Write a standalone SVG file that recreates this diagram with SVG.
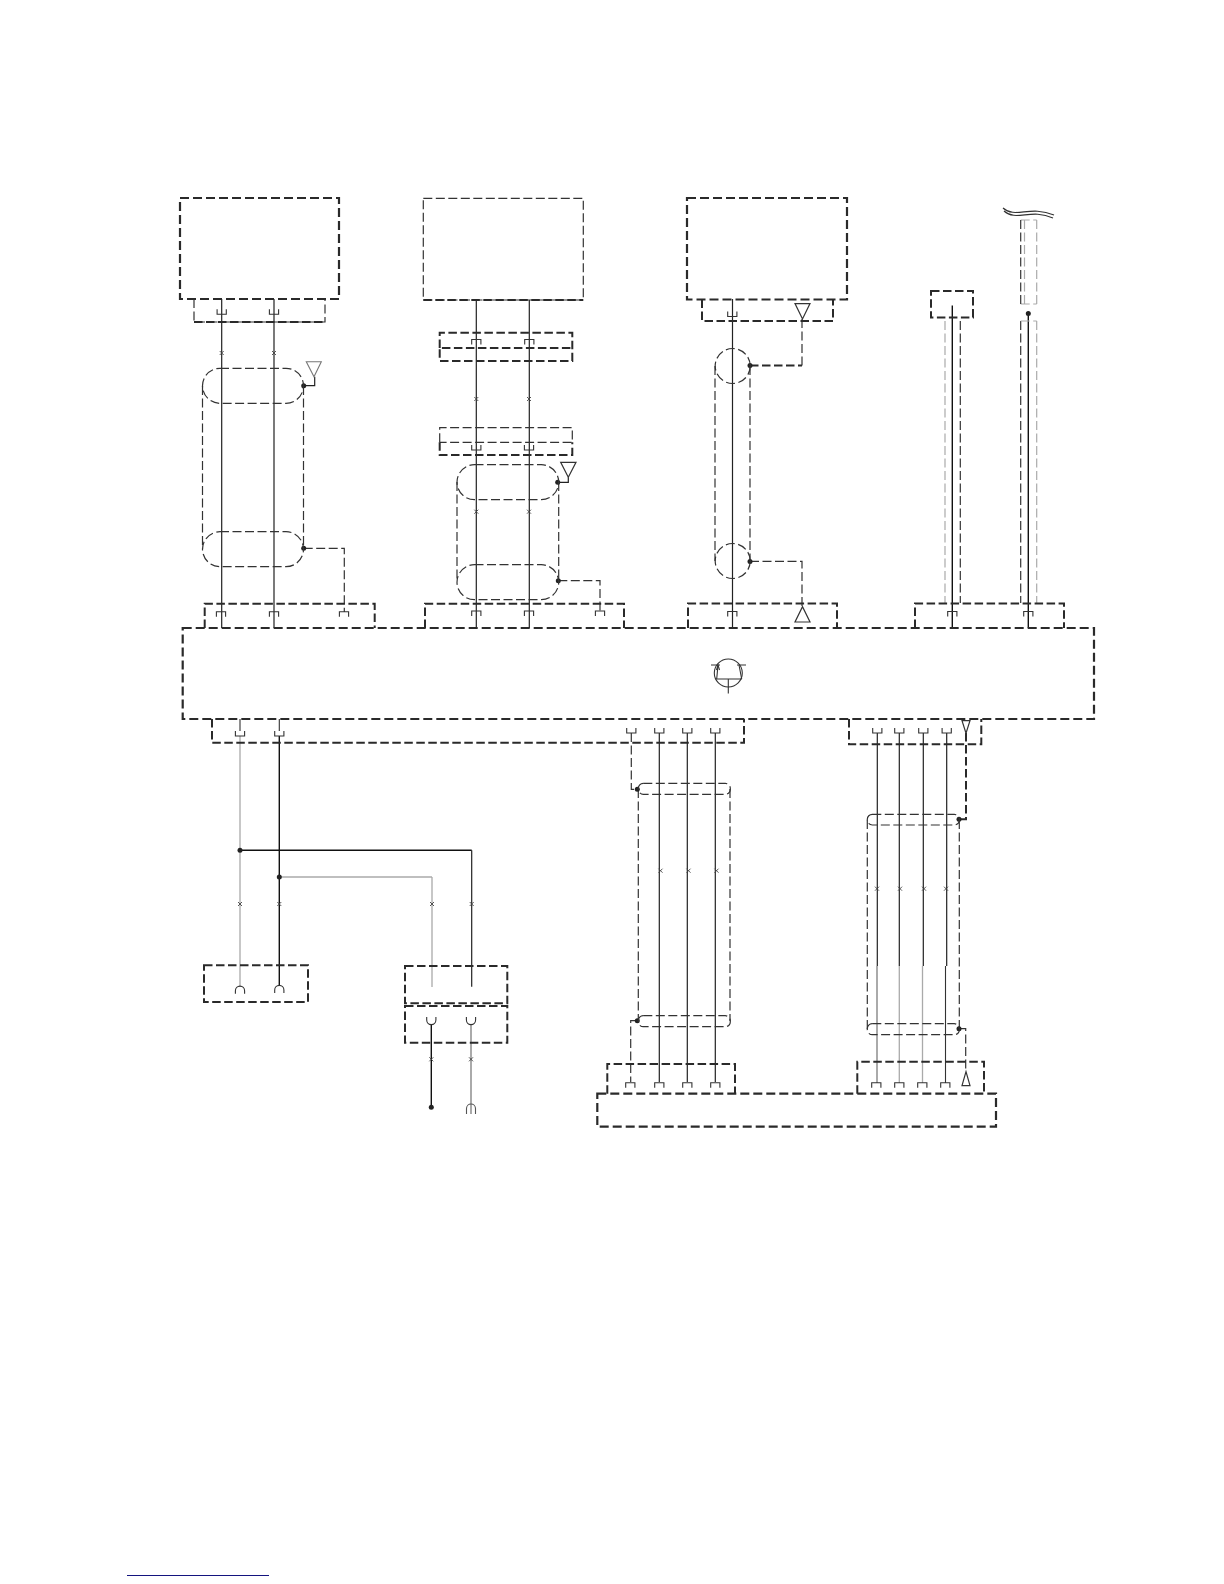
<svg xmlns="http://www.w3.org/2000/svg" width="1224" height="1584" viewBox="0 0 1224 1584">
<style>
*{fill:none;stroke-linecap:butt}
.b{stroke:#2a2a2a;stroke-width:2.2;stroke-dasharray:9 4}
.m{stroke:#2a2a2a;stroke-width:2;stroke-dasharray:8.5 3.5}
.t{stroke:#333;stroke-width:1.2;stroke-dasharray:9 3.5}
.g{stroke:#aaa;stroke-width:1.2;stroke-dasharray:9 3.5}
.w{stroke:#222;stroke-width:1.2}
.w2{stroke:#111;stroke-width:1.4}
.y{stroke:#aaa;stroke-width:1.3}
.y2{stroke:#aaa;stroke-width:2}
.c{stroke:#333;stroke-width:1.1}
.x{stroke:#444;stroke-width:.9}
.d{fill:#222;stroke:none}
.tri{stroke:#333;stroke-width:1.2;fill:#fff}
</style>
<defs>
<path id="u" d="M-4.6 0V5H4.6V0"/>
<path id="a" d="M-4.6 5V0H4.6V5"/>
<path id="xm" d="M-2 -2L2 2M-2 2L2 -2"/>
<path id="cup" d="M-4.6 7V4A4.6 4.6 0 0 1 4.6 4V7"/>
<path id="cap" d="M-4.6 0V3A4.6 4.6 0 0 0 4.6 3V0"/>
</defs>

<g id="connectors">
<path class="w" d="M221.7 299V628M274 299V628"/>
<path class="t" d="M202.5 386V549M303.500 386V549M303.700 548.300H344.300V612"/>
<path class="w" d="M303.700 385.700H314.700V376.700"/>
<path class="w" d="M476.300 300V628M529.300 300V628"/>
<path class="t" d="M457 482V582M558.700 482V582M558.300 580.700H600V612"/>
<path class="w" d="M557.700 482.300H568.300V477.300"/>
<path class="w" d="M732.500 299V628"/>
<path class="t" d="M715 366V561M750 366V561M750 561.400H802V607"/>
<path class="m" d="M750 365.600H802"/>
<path class="t" d="M802 365.600V319"/>
<path class="w2" d="M952.300 305.400V628M1028.300 313.600V628"/>
<path class="g" d="M945 321V603"/>
<path class="t" d="M960.300 321V603"/>
<path class="t" d="M1020.700 321V603"/>
<path class="g" d="M1036.700 321V603M1024.500 220V304M1036.700 220V304M1020.700 304H1036.700M1020.700 220H1036.700M1020.700 321H1036.700"/>
<path class="t" d="M1020.700 220V304"/>
<path class="c" d="M1003 208C1015 219 1030 205 1054 215M1004 211C1016 222 1031 208 1053 218"/>
<path class="y" d="M240 736V987M432 877V987"/>
<path class="y" d="M279.300 877H432"/>
<path class="w2" d="M279.300 736V986M240 850.300H471.700"/>
<path class="w" d="M471.700 850.300V986.700"/>
<path class="w2" d="M431.300 1025V1107"/>
<path class="y2" d="M471 1025V1114"/>
<path class="c" d="M240 719V731M279.300 719V731"/>
<path class="w" d="M659.300 733V1082M687.300 733V1082M715.300 733V1082"/>
<path class="t" d="M631.300 733V789.300H637.300M638.300 789V1021M730 789V1021M637.300 1020.700H630.700V1082"/>
<path class="w" d="M877.300 733V966M899.300 733V966M923.300 733V966M946.700 733V966"/>
<path class="y2" d="M877 966V1083"/>
<path class="y" d="M899.300 966V1083M922.500 966V1083"/>
<path class="c" d="M945.500 966V1083"/>
<path class="t" d="M867.300 820V1029M959.300 820V1029M959 1028.700H965.700V1072"/>
<path class="m" d="M966 733V819.300H959"/>
<g class="x">
<use href="#xm" x="221.700" y="353"/><use href="#xm" x="274" y="353"/>
<use href="#xm" x="476.300" y="399"/><use href="#xm" x="529" y="399"/>
<use href="#xm" x="476.300" y="511.700"/><use href="#xm" x="529" y="511.700"/>
<use href="#xm" x="240" y="904"/><use href="#xm" x="279.300" y="904"/><use href="#xm" x="432" y="904"/><use href="#xm" x="471.700" y="904"/>
<use href="#xm" x="431.300" y="1059.300"/><use href="#xm" x="471" y="1059.300"/>
<use href="#xm" x="660.500" y="870.700"/><use href="#xm" x="688.500" y="870.700"/><use href="#xm" x="716.500" y="870.700"/>
<use href="#xm" x="877" y="888.700"/><use href="#xm" x="900" y="888.700"/><use href="#xm" x="924" y="888.700"/><use href="#xm" x="946" y="888.700"/>
</g>
<g>
<circle class="d" cx="303.700" cy="385.700" r="2.500"/><circle class="d" cx="303.700" cy="548.300" r="2.500"/>
<circle class="d" cx="557.700" cy="482.300" r="2.500"/><circle class="d" cx="558.300" cy="580.700" r="2.500"/>
<circle class="d" cx="750" cy="365.600" r="2.500"/><circle class="d" cx="750" cy="561.400" r="2.500"/>
<circle class="d" cx="1028.300" cy="313.600" r="2.500"/>
<circle class="d" cx="240" cy="850.300" r="2.500"/><circle class="d" cx="279.300" cy="877" r="2.500"/>
<circle class="d" cx="431.300" cy="1107.300" r="2.500"/>
<circle class="d" cx="637.300" cy="789.300" r="2.500"/><circle class="d" cx="637.300" cy="1020.700" r="2.500"/>
<circle class="d" cx="959" cy="819.300" r="2.500"/><circle class="d" cx="959" cy="1028.700" r="2.500"/>
</g>
</g>

<g id="module-a">
<rect class="b" x="180" y="198" width="159" height="101"/>
<path class="t" d="M194 299V322H325V299"/>
<path class="m" d="M194 322H325"/>
<g class="c"><use href="#u" x="221.700" y="309.300"/><use href="#u" x="274" y="309.300"/></g>
</g>
<g id="shield-a">
<rect class="t" x="202.500" y="368.300" width="101" height="35" rx="17.500"/>
<rect class="t" x="202.500" y="531.700" width="101" height="35" rx="17.500"/>
<path d="M306.300 361.700H321.300L314 376.700Z" stroke="#777" stroke-width="1.100"/>
</g>
<g id="connector-a">
<path class="m" d="M204.700 628V603.700H374.700V628"/>
<g class="c"><use href="#a" x="221" y="611.700"/><use href="#a" x="274" y="611.700"/><use href="#a" x="344" y="611.700"/></g>
</g>

<g id="module-b">
<rect class="t" x="423.300" y="198.300" width="160" height="101.700"/>
<path class="m" d="M423.300 300H583.300"/>
</g>
<g id="splice-b1">
<path class="m" d="M439.700 348V332.700H572.300V361H439.700V348H572.300"/>
<g class="c"><use href="#a" x="476.300" y="339.500"/><use href="#a" x="529.300" y="339.500"/></g>
</g>
<g id="splice-b2">
<path class="t" d="M439.700 442.300V427.700H572.300V442.300H439.700"/>
<path class="m" d="M439.700 442.300V455H572.300V442.300"/>
<g class="c"><use href="#u" x="476.300" y="445"/><use href="#u" x="529" y="445"/></g>
</g>
<g id="shield-b">
<rect class="t" x="457" y="464.700" width="101.700" height="35" rx="17.500"/>
<rect class="t" x="457" y="564.700" width="101.700" height="35" rx="17.500"/>
<path class="tri" d="M560.700 462.300H576L568.300 477.300Z"/>
</g>
<g id="connector-b">
<path class="m" d="M425 628V603.700H624V628"/>
<g class="c"><use href="#a" x="476.300" y="611"/><use href="#a" x="529" y="611"/><use href="#a" x="600" y="611"/></g>
</g>

<g id="module-c">
<rect class="b" x="687" y="198" width="160" height="101.500"/>
<path class="m" d="M702 299.500V321H833V299.500"/>
<g class="c"><use href="#u" x="732.300" y="311.500"/></g>
<path class="tri" d="M795 303.600H810L802.500 319Z"/>
</g>
<g id="shield-c">
<circle class="t" cx="732.700" cy="366" r="17.500"/>
<circle class="t" cx="732.700" cy="561" r="17.500"/>
</g>
<g id="connector-c">
<path class="m" d="M688 628V603.600H837V628"/>
<g class="c"><use href="#a" x="732.300" y="611.500"/></g>
<path class="tri" d="M795 622H810L802.500 606.700Z"/>
</g>

<g id="fuse-d">
<rect class="m" x="931" y="291" width="42" height="26.400"/>
</g>
<g id="connector-d">
<path class="m" d="M915 628V603.600H1064V628"/>
<g class="c"><use href="#a" x="952.300" y="611.500"/><use href="#a" x="1028.300" y="611.500"/></g>
</g>

<g id="main-unit">
<rect class="b" x="182.700" y="628" width="911.300" height="91"/>
</g>
<g id="transistor" class="c">
<circle cx="728.300" cy="673" r="14"/>
<path d="M711 665H720M737 665H746M718 665L716.700 679M739 665L741.700 679M715.700 679H741.700M728.300 679V693.400"/>
<path d="M716.500 670L718 665L719.500 670"/>
</g>

<g id="connector-e">
<path class="m" d="M212 719V742.700H744V719"/>
<g class="c"><use href="#u" x="240" y="731"/><use href="#u" x="279.300" y="731"/>
<use href="#u" x="631.300" y="728"/><use href="#u" x="659.300" y="728"/><use href="#u" x="687.300" y="728"/><use href="#u" x="715.300" y="728"/></g>
</g>
<g id="connector-f">
<path class="m" d="M849 719V744.300H981.300V719"/>
<g class="c"><use href="#u" x="877.300" y="728"/><use href="#u" x="899.300" y="728"/><use href="#u" x="923.300" y="728"/><use href="#u" x="946.700" y="728"/></g>
<path class="tri" d="M962 720.700H970L966 733.300Z"/>
</g>

<g id="box-d">
<rect class="m" x="204" y="965.300" width="104" height="36.700"/>
<g class="c"><use href="#cup" x="240" y="986.700"/><use href="#cup" x="279.300" y="986"/></g>
</g>
<g id="box-e">
<rect class="m" x="405" y="966" width="102.300" height="37.300"/>
</g>
<g id="box-f">
<rect class="m" x="405" y="1006" width="102.300" height="36.700"/>
<g class="c"><use href="#cap" x="431.300" y="1017"/><use href="#cap" x="471" y="1017"/></g>
</g>
<g id="fork">
<path d="M466.500 1114V1108.500A4.500 4.500 0 0 1 475.500 1108.500V1114" stroke="#555" stroke-width="1.100"/>
</g>

<g id="shield-g">
<rect class="t" x="638.300" y="783.300" width="92" height="11" rx="5"/>
<rect class="t" x="638.300" y="1015.700" width="92" height="11" rx="5"/>
</g>
<g id="shield-h">
<rect class="t" x="867.300" y="814.300" width="92" height="10.700" rx="5"/>
<rect class="t" x="867.300" y="1023.700" width="92" height="11" rx="5"/>
</g>
<g id="connector-g">
<path class="m" d="M607.300 1093.700V1064H735V1093.700"/>
<g class="c"><use href="#a" x="630.300" y="1082.700"/><use href="#a" x="659.300" y="1082.700"/><use href="#a" x="687.300" y="1082.700"/><use href="#a" x="715.300" y="1082.700"/></g>
</g>
<g id="connector-h">
<path class="m" d="M857.300 1093.700V1061.700H984V1093.700"/>
<g class="c"><use href="#a" x="876.300" y="1082.700"/><use href="#a" x="899.300" y="1082.700"/><use href="#a" x="922.300" y="1082.700"/><use href="#a" x="945.300" y="1082.700"/></g>
<path class="tri" d="M962 1085.700H970L966 1071.700Z"/>
</g>
<g id="lower-unit">
<rect class="b" x="597.300" y="1093.700" width="398.700" height="33"/>
</g>
<path id="footer-rule" d="M127 1575.500H269" stroke="#14147f" stroke-width="1.200"/>
</svg>
